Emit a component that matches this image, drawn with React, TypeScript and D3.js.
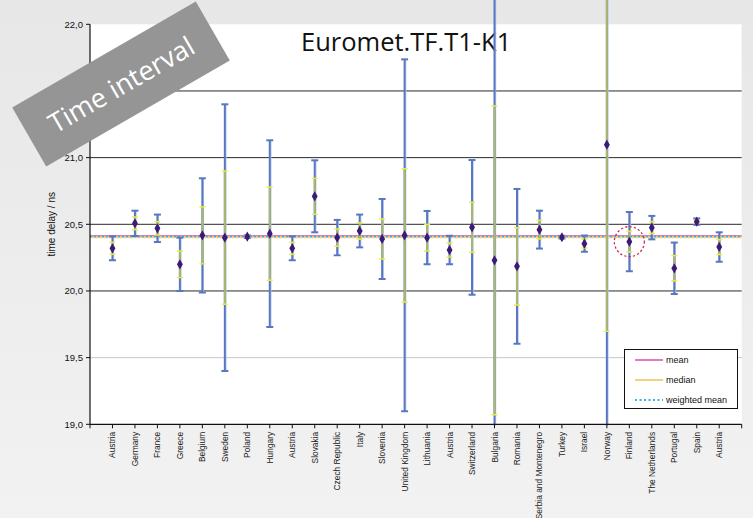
import React from "react";
import * as d3 from "d3";

const countries = [
  "Austria", "Germany", "France", "Greece", "Belgium", "Sweden", "Poland", "Hungary",
  "Austria", "Slovakia", "Czech Republic", "Italy", "Slovenia", "United Kingdom",
  "Lithuania", "Austria", "Switzerland", "Bulgaria", "Romania", "Serbia and Montenegro",
  "Turkey", "Israel", "Norway", "Finland", "The Netherlands", "Portugal", "Spain", "Austria",
];
const means = [
  20.32, 20.507, 20.47, 20.2, 20.417, 20.4, 20.407, 20.43,
  20.32, 20.71, 20.4, 20.45, 20.39, 20.417,
  20.4, 20.307, 20.477, 20.23, 20.185, 20.46,
  20.403, 20.355, 21.097, 20.37, 20.475, 20.17, 20.52, 20.33,
];
const expandedU = [
  0.09, 0.095, 0.103, 0.2, 0.428, 1.0, 0.01, 0.7,
  0.09, 0.27, 0.133, 0.123, 0.3, 1.32,
  0.2, 0.107, 0.505, 2.5, 0.58, 0.142,
  0.01, 0.061, 3.0, 0.222, 0.088, 0.193, 0.024, 0.11,
];
const standardU = [
  0.045, 0.048, 0.05, 0.1, 0.214, 0.5, 0.005, 0.35,
  0.045, 0.135, 0.065, 0.062, 0.15, 0.5,
  0.1, 0.053, 0.188, 1.158, 0.29, 0.07,
  0.005, 0.033, 1.4, 0.078, 0.044, 0.095, 0.01, 0.056,
];
const meanValue = 20.413;
const medianValue = 20.402;
const weightedMeanValue = 20.408;
const yTicks = [19, 19.5, 20, 20.5, 21, 21.5, 22];
const gridValues = [19.5, 20, 20.5, 21, 21.5];
const highlighted = ["Finland"];
const legendItems = ["mean", "median", "weighted mean"];

const W = 753;
const H = 518;
const left = 90;
const right = 741.7;
const top = 24.3;
const bottom = 424.3;

export default function App() {
  const x = d3.scaleLinear().domain([-1, countries.length]).range([left, right]);
  const y = d3.scaleLinear().domain([19, 22]).range([bottom, top]);
  const fmt = (v: number) => d3.format(".1f")(v).replace(".", ",");
  const sans = "'Liberation Sans', Arial, sans-serif";
  const diamond = d3.symbol().type(d3.symbolDiamond).size(30)() as string;

  const legendColors = ["#e57ac0", "#f2d27c", "#3aaee6"];

  return (
    <svg
      width={W}
      height={H}
      style={{ position: "absolute", left: 0, top: 0 }}
      fontFamily={sans}
    >
      <defs>
        <linearGradient id="bg" x1="0" y1="0" x2="0" y2="1">
          <stop offset="0" stopColor="#e7e7e7" />
          <stop offset="1" stopColor="#f2f2f2" />
        </linearGradient>
        <clipPath id="barclip">
          <rect x={0} y={0} width={W} height={bottom + 1} />
        </clipPath>
      </defs>
      <rect x={0} y={0} width={W} height={H} fill="url(#bg)" />
      <rect x={left} y={top} width={right - left} height={bottom - top} fill="#ffffff" />

      {gridValues.map((g) => (
        <line
          key={g}
          x1={left}
          x2={right}
          y1={y(g)}
          y2={y(g)}
          stroke={g === 19.5 ? "#c6c6c6" : "#2a2a2a"}
          strokeWidth={1}
        />
      ))}

      <line x1={left} x2={right} y1={y(meanValue)} y2={y(meanValue)} stroke={legendColors[0]} strokeWidth={2} />
      <line x1={left} x2={right} y1={y(medianValue)} y2={y(medianValue)} stroke={legendColors[1]} strokeWidth={2} />
      <line
        x1={left}
        x2={right}
        y1={y(weightedMeanValue)}
        y2={y(weightedMeanValue)}
        stroke={legendColors[2]}
        strokeWidth={1.6}
        strokeDasharray="2,2"
      />

      <text x={301} y={51} fontSize={25.5} fontFamily="'Open Sans', sans-serif" fill="#111">
        Euromet.TF.T1-K1
      </text>

      <g clipPath="url(#barclip)">
        {countries.map((c, i) => {
          const cx = x(i);
          const m = means[i];
          const bt = y(m + expandedU[i]);
          const bb = y(m - expandedU[i]);
          const yt = y(m + standardU[i]);
          const yb = y(m - standardU[i]);
          return (
            <g key={i}>
              <line x1={cx + 1.2} x2={cx + 1.2} y1={bt} y2={bb} stroke="#b3c6ea" strokeWidth={1} />
              <line x1={cx} x2={cx} y1={bt} y2={bb} stroke="#5877c2" strokeWidth={2} />
              <line x1={cx - 3.5} x2={cx + 3.5} y1={bt} y2={bt} stroke="#5877c2" strokeWidth={2} />
              <line x1={cx - 3.5} x2={cx + 3.5} y1={bb} y2={bb} stroke="#5877c2" strokeWidth={2} />
              <line x1={cx} x2={cx} y1={yt} y2={yb} stroke="#abb86c" strokeWidth={2} />
              <line x1={cx - 3} x2={cx + 3} y1={yt} y2={yt} stroke="#eded3e" strokeWidth={1.4} />
              <line x1={cx - 3} x2={cx + 3} y1={yb} y2={yb} stroke="#eded3e" strokeWidth={1.4} />
            </g>
          );
        })}
      </g>

      {countries.map((c, i) => (
        <path key={"p" + i} d={diamond} transform={`translate(${x(i)},${y(means[i])})`} fill="#3b1a78" />
      ))}

      {countries.map((c, i) =>
        highlighted.includes(c) ? (
          <circle
            key={"h" + i}
            cx={x(i)}
            cy={y(means[i])}
            r={15}
            fill="none"
            stroke="#d0285a"
            strokeWidth={1.3}
            strokeDasharray="2.2,2.2"
          />
        ) : null
      )}

      <line x1={left} x2={left} y1={top} y2={bottom + 0.5} stroke="#111" strokeWidth={1.2} />
      <line x1={left} x2={right} y1={bottom} y2={bottom} stroke="#111" strokeWidth={1.2} />
      {yTicks.map((t) => (
        <g key={t}>
          <line x1={left - 4} x2={left} y1={y(t)} y2={y(t)} stroke="#111" />
          <text x={left - 7} y={y(t)} dy="0.35em" textAnchor="end" fontSize={9.5} fill="#111">
            {fmt(t)}
          </text>
        </g>
      ))}
      {d3.range(-1, countries.length + 1).map((i) => (
        <line key={"t" + i} x1={x(i)} x2={x(i)} y1={bottom} y2={bottom + 4} stroke="#111" />
      ))}
      {countries.map((c, i) => (
        <text
          key={"l" + i}
          transform={`translate(${x(i) + 3},${bottom + 7.5}) rotate(-90)`}
          textAnchor="end"
          fontSize={8.4}
          fill="#222"
        >
          {c}
        </text>
      ))}
      <text
        transform={`translate(55,${(top + bottom) / 2}) rotate(-90)`}
        textAnchor="middle"
        fontSize={10}
        fill="#111"
      >
        time delay / ns
      </text>

      <rect x={624.5} y={349.5} width={113} height={59} fill="#fff" stroke="#111" strokeWidth={1} />
      {legendItems.map((item, k) => {
        const ly = 360 + k * 20;
        return (
          <g key={item}>
            <line
              x1={635}
              x2={663}
              y1={ly}
              y2={ly}
              stroke={legendColors[k]}
              strokeWidth={k === 2 ? 1.8 : 2}
              strokeDasharray={k === 2 ? "2,2.5" : undefined}
            />
            <text x={666} y={ly} dy="0.35em" fontSize={9} fill="#111">
              {item}
            </text>
          </g>
        );
      })}

      <g transform="translate(121,84) rotate(-30)">
        <rect x={-106} y={-34} width={212} height={68} fill="#959595" />
        <text
          x={0}
          y={1}
          dy="0.35em"
          textAnchor="middle"
          fontSize={27}
          fill="#ffffff"
          fontFamily="'Open Sans', sans-serif"
        >
          Time interval
        </text>
      </g>
    </svg>
  );
}
